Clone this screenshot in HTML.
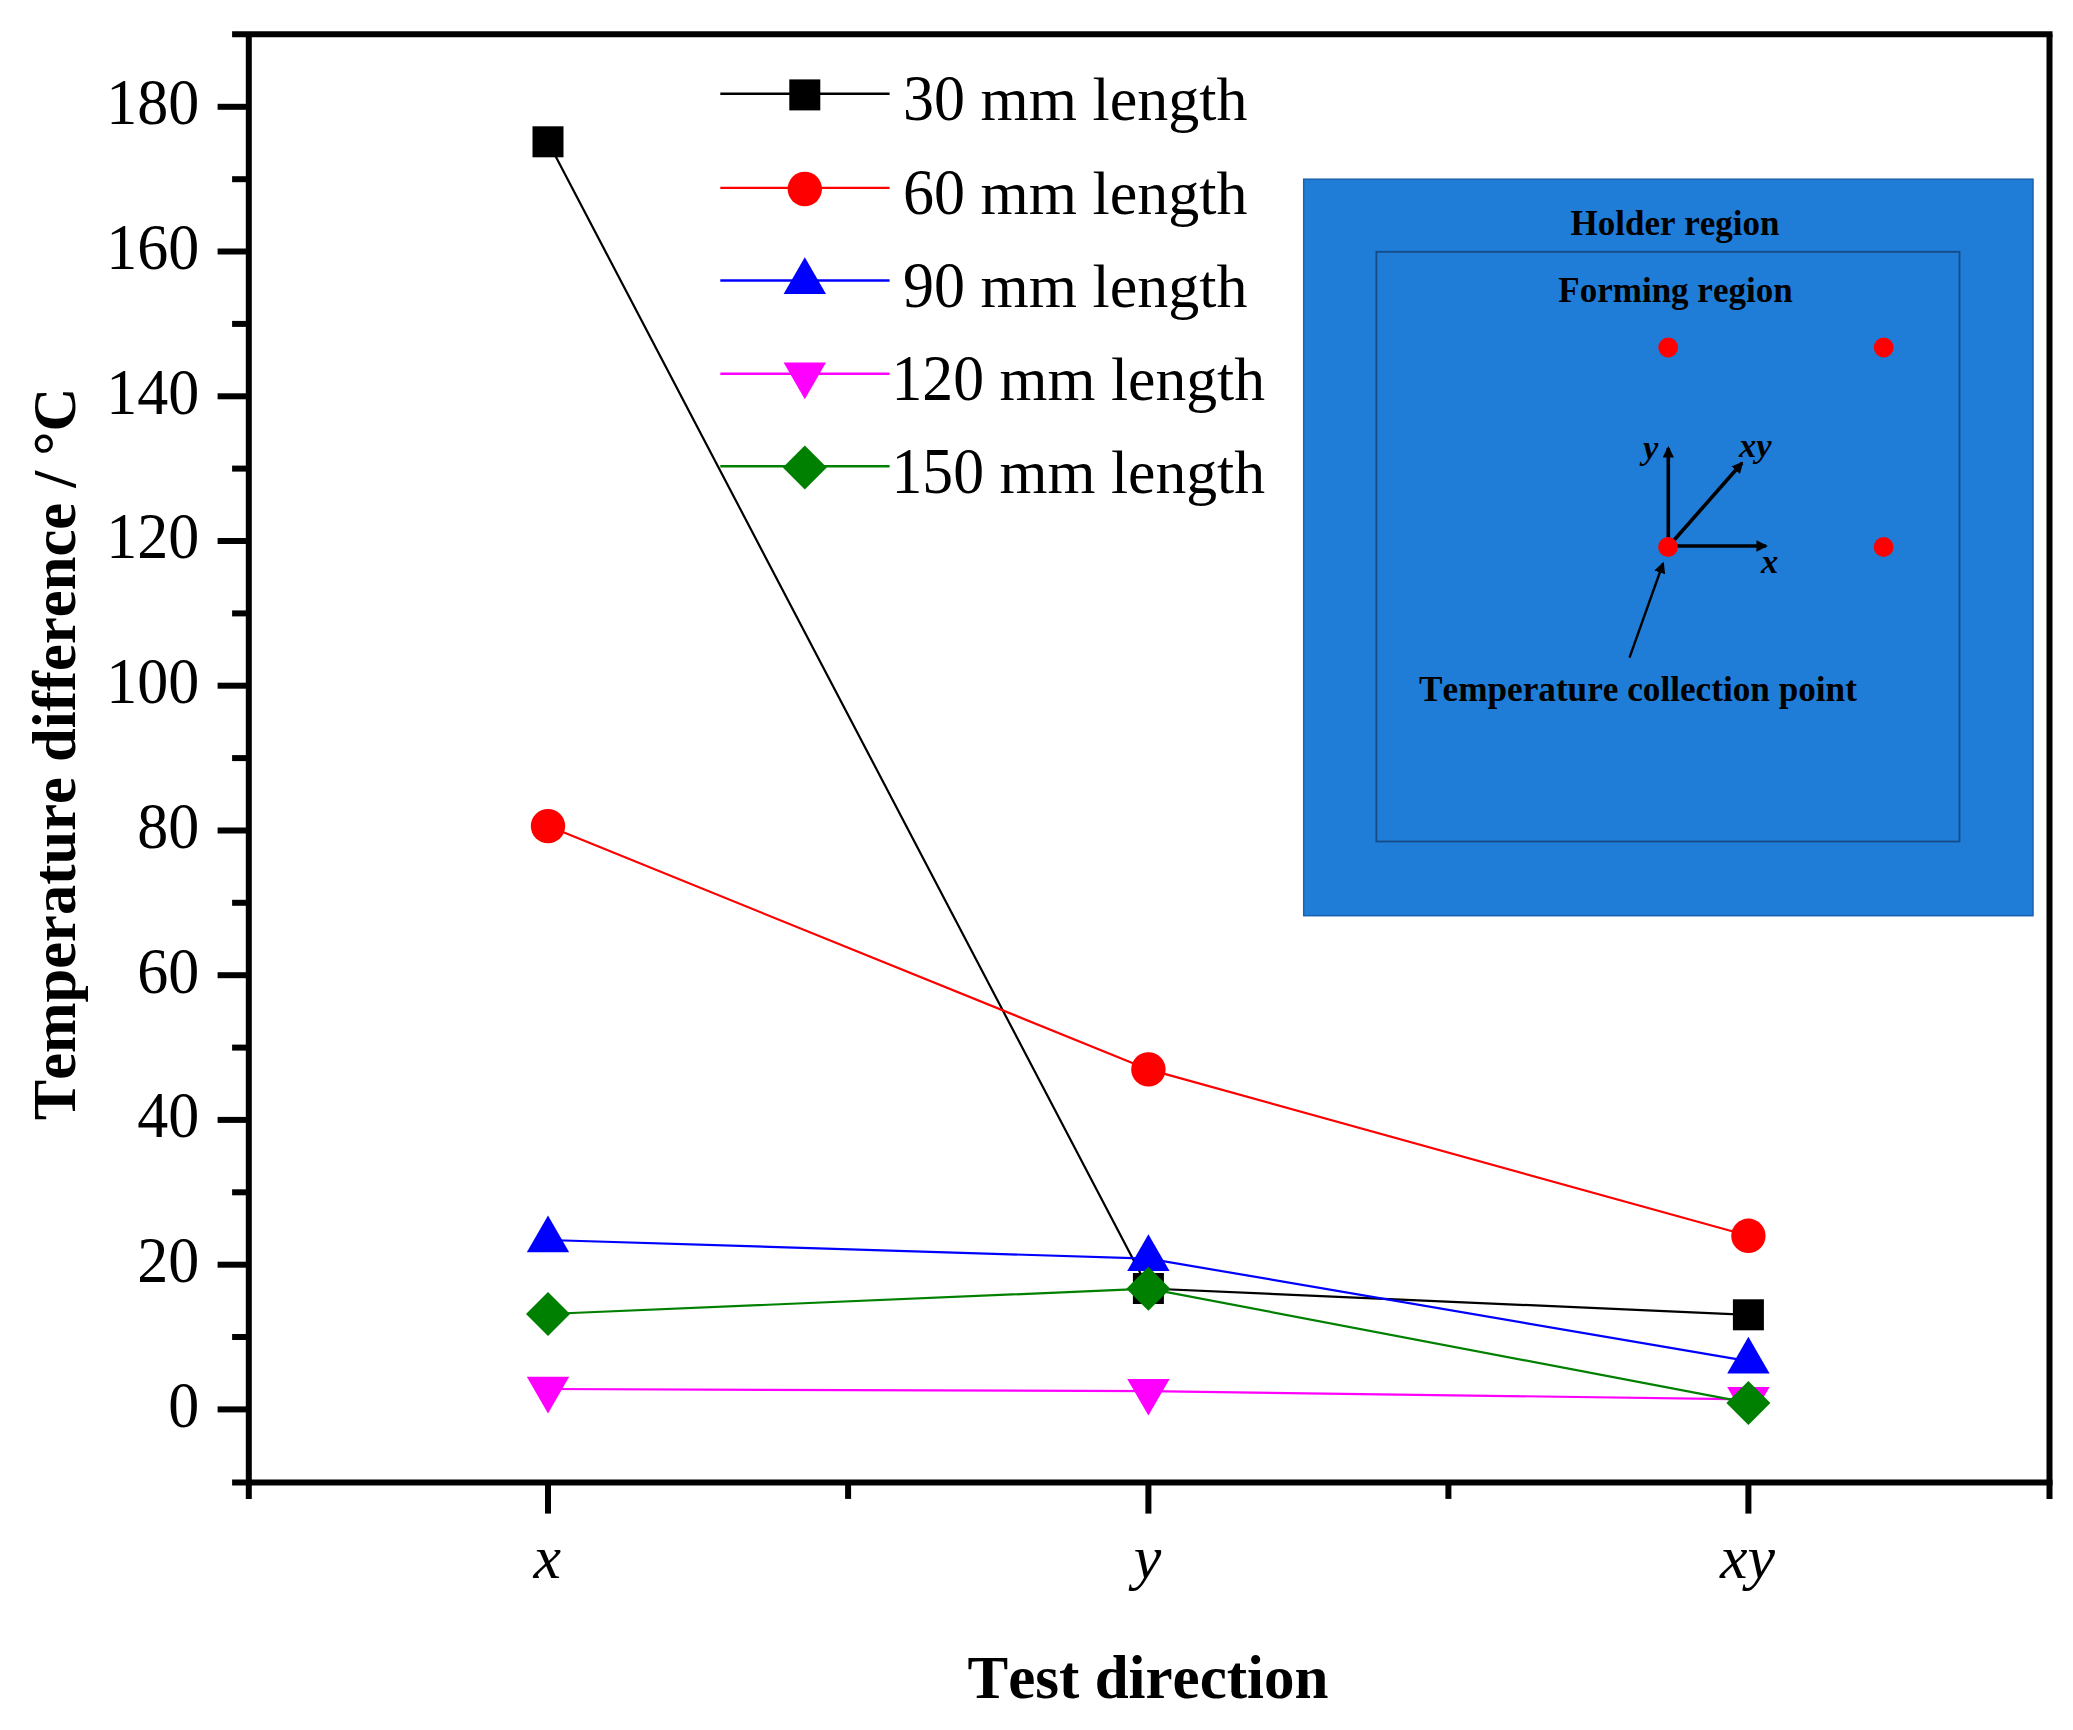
<!DOCTYPE html>
<html lang="en"><head><meta charset="utf-8"><title>Temperature difference vs test direction</title>
<style>
html,body{margin:0;padding:0;background:#fff;}
body{width:2073px;height:1730px;overflow:hidden;}
svg{display:block;}
text{font-family:"Liberation Serif","Times New Roman",serif;fill:#000;font-kerning:none;}
.b{font-weight:bold;}
.i{font-style:italic;}
</style></head><body>
<svg width="2073" height="1730" viewBox="0 0 2073 1730">
<rect width="2073" height="1730" fill="#ffffff"/>
<g stroke="#000" stroke-width="6" fill="none" stroke-linecap="butt">
<line x1="232.10000000000002" y1="34.2" x2="2052.5" y2="34.2"/>
<line x1="232.10000000000002" y1="1482.6" x2="2052.5" y2="1482.6"/>
<line x1="248.8" y1="34.2" x2="248.8" y2="1498.8999999999999"/>
<line x1="2049.5" y1="34.2" x2="2049.5" y2="1498.8999999999999"/>
<line x1="217.60000000000002" y1="1409.4" x2="248.8" y2="1409.4"/>
<line x1="217.60000000000002" y1="1264.7" x2="248.8" y2="1264.7"/>
<line x1="217.60000000000002" y1="1119.9" x2="248.8" y2="1119.9"/>
<line x1="217.60000000000002" y1="975.2" x2="248.8" y2="975.2"/>
<line x1="217.60000000000002" y1="830.5" x2="248.8" y2="830.5"/>
<line x1="217.60000000000002" y1="685.7" x2="248.8" y2="685.7"/>
<line x1="217.60000000000002" y1="541.0" x2="248.8" y2="541.0"/>
<line x1="217.60000000000002" y1="396.3" x2="248.8" y2="396.3"/>
<line x1="217.60000000000002" y1="251.5" x2="248.8" y2="251.5"/>
<line x1="217.60000000000002" y1="106.8" x2="248.8" y2="106.8"/>
<line x1="232.10000000000002" y1="1337.0" x2="248.8" y2="1337.0"/>
<line x1="232.10000000000002" y1="1192.3" x2="248.8" y2="1192.3"/>
<line x1="232.10000000000002" y1="1047.6" x2="248.8" y2="1047.6"/>
<line x1="232.10000000000002" y1="902.8" x2="248.8" y2="902.8"/>
<line x1="232.10000000000002" y1="758.1" x2="248.8" y2="758.1"/>
<line x1="232.10000000000002" y1="613.4" x2="248.8" y2="613.4"/>
<line x1="232.10000000000002" y1="468.6" x2="248.8" y2="468.6"/>
<line x1="232.10000000000002" y1="323.9" x2="248.8" y2="323.9"/>
<line x1="232.10000000000002" y1="179.2" x2="248.8" y2="179.2"/>
<line x1="548.0" y1="1482.6" x2="548.0" y2="1513.6"/>
<line x1="1148.4" y1="1482.6" x2="1148.4" y2="1513.6"/>
<line x1="1748.4" y1="1482.6" x2="1748.4" y2="1513.6"/>
<line x1="848.1" y1="1482.6" x2="848.1" y2="1498.8999999999999"/>
<line x1="1448.4" y1="1482.6" x2="1448.4" y2="1498.8999999999999"/>
</g>
<g font-size="62" text-anchor="end">
<text transform="translate(199.2,1426.7) scale(1,1.06)">0</text>
<text transform="translate(199.2,1282.0) scale(1,1.06)">20</text>
<text transform="translate(199.2,1137.2) scale(1,1.06)">40</text>
<text transform="translate(199.2,992.5) scale(1,1.06)">60</text>
<text transform="translate(199.2,847.8) scale(1,1.06)">80</text>
<text transform="translate(199.2,703.0) scale(1,1.06)">100</text>
<text transform="translate(199.2,558.3) scale(1,1.06)">120</text>
<text transform="translate(199.2,413.6) scale(1,1.06)">140</text>
<text transform="translate(199.2,268.8) scale(1,1.06)">160</text>
<text transform="translate(199.2,124.1) scale(1,1.06)">180</text>
</g>
<g font-size="62" text-anchor="middle" class="i">
<text x="547.2" y="1578">x</text>
<text x="1147.6000000000001" y="1578">y</text>
<text x="1747.6000000000001" y="1578">xy</text>
</g>
<text class="b" font-size="61" text-anchor="middle" x="1148" y="1698.3">Test direction</text>
<text class="b" font-size="60.6" text-anchor="middle" transform="translate(75.2,754) rotate(-90)">Temperature difference / °C</text>
<polyline points="548.0,141.8 1148.4,1288.5 1748.4,1314.8" fill="none" stroke="#000000" stroke-width="2.2"/>
<rect x="532.5" y="126.3" width="31" height="31" fill="#000000"/>
<rect x="1132.9" y="1273.0" width="31" height="31" fill="#000000"/>
<rect x="1732.9" y="1299.3" width="31" height="31" fill="#000000"/>
<polyline points="548.0,826.1 1148.4,1069.4 1748.4,1235.8" fill="none" stroke="#ff0000" stroke-width="2.2"/>
<circle cx="548.0" cy="826.1" r="17.2" fill="#ff0000"/>
<circle cx="1148.4" cy="1069.4" r="17.2" fill="#ff0000"/>
<circle cx="1748.4" cy="1235.8" r="17.2" fill="#ff0000"/>
<polyline points="548.0,1240.0 1148.4,1258.6 1748.4,1361.1" fill="none" stroke="#0000ff" stroke-width="2.2"/>
<polygon points="548.0,1215.6 569.2,1252.3 526.8,1252.3" fill="#0000ff"/>
<polygon points="1148.4,1234.2 1169.6,1270.9 1127.2,1270.9" fill="#0000ff"/>
<polygon points="1748.4,1336.7 1769.6,1373.4 1727.2,1373.4" fill="#0000ff"/>
<polyline points="548.0,1389.0 1148.4,1391.2 1748.4,1399.3" fill="none" stroke="#ff00ff" stroke-width="2.2"/>
<polygon points="548.0,1413.4 569.2,1376.7 526.8,1376.7" fill="#ff00ff"/>
<polygon points="1148.4,1415.6 1169.6,1378.9 1127.2,1378.9" fill="#ff00ff"/>
<polygon points="1748.4,1423.7 1769.6,1387.0 1727.2,1387.0" fill="#ff00ff"/>
<polyline points="548.0,1314.0 1148.4,1288.7 1748.4,1402.9" fill="none" stroke="#008000" stroke-width="2.2"/>
<polygon points="548.0,1292.0 570.0,1314.0 548.0,1336.0 526.0,1314.0" fill="#008000"/>
<polygon points="1148.4,1266.7 1170.4,1288.7 1148.4,1310.7 1126.4,1288.7" fill="#008000"/>
<polygon points="1748.4,1380.9 1770.4,1402.9 1748.4,1424.9 1726.4,1402.9" fill="#008000"/>
<line x1="720.3" y1="93.8" x2="889.6" y2="93.8" stroke="#000000" stroke-width="2.4"/>
<rect x="789.3" y="79.4" width="31" height="31" fill="#000000"/>
<text font-size="62" transform="translate(903,120.2) scale(1,1.06)">30</text>
<text font-size="62" x="980.5" y="120.2">mm length</text>
<line x1="720.3" y1="187.9" x2="889.6" y2="187.9" stroke="#ff0000" stroke-width="2.4"/>
<circle cx="804.8" cy="189.0" r="17.2" fill="#ff0000"/>
<text font-size="62" transform="translate(903,214.3) scale(1,1.06)">60</text>
<text font-size="62" x="980.5" y="214.3">mm length</text>
<line x1="720.3" y1="280.5" x2="889.6" y2="280.5" stroke="#0000ff" stroke-width="2.4"/>
<polygon points="804.8,257.2 826.0,293.9 783.6,293.9" fill="#0000ff"/>
<text font-size="62" transform="translate(903,306.9) scale(1,1.06)">90</text>
<text font-size="62" x="980.5" y="306.9">mm length</text>
<line x1="720.3" y1="373.7" x2="889.6" y2="373.7" stroke="#ff00ff" stroke-width="2.4"/>
<polygon points="804.8,399.2 826.0,362.5 783.6,362.5" fill="#ff00ff"/>
<text font-size="61.7" transform="translate(891.5,400.1) scale(1,1.06)">120</text>
<text font-size="61.7" x="999.5" y="400.1">mm length</text>
<line x1="720.3" y1="466.3" x2="889.6" y2="466.3" stroke="#008000" stroke-width="2.4"/>
<polygon points="804.8,445.4 826.8,467.4 804.8,489.4 782.8,467.4" fill="#008000"/>
<text font-size="61.7" transform="translate(891.5,492.7) scale(1,1.06)">150</text>
<text font-size="61.7" x="999.5" y="492.7">mm length</text>
<rect x="1303.7" y="179.2" width="729.3" height="736.5" fill="#1f7dd8" stroke="#1a62b0" stroke-width="1.5"/>
<rect x="1376.4" y="251.8" width="583.1" height="589.7" fill="none" stroke="#164b86" stroke-width="1.8"/>
<text class="b" font-size="35" text-anchor="middle" x="1675" y="234.6">Holder region</text>
<text class="b" font-size="35" text-anchor="middle" x="1675.5" y="301.5">Forming region</text>
<text class="b" font-size="35.2" text-anchor="middle" x="1638" y="701">Temperature collection point</text>
<defs><marker id="ah" viewBox="0 0 12 12" refX="10" refY="6" markerWidth="11.5" markerHeight="11.5" markerUnits="userSpaceOnUse" orient="auto"><path d="M0,0 L12,6 L0,12 Z" fill="#000"/></marker></defs>
<g stroke="#000" stroke-width="3.6" fill="none">
<line x1="1668.3" y1="547" x2="1668.3" y2="448" marker-end="url(#ah)"/>
<line x1="1668" y1="546" x2="1766" y2="546" marker-end="url(#ah)"/>
<line x1="1668" y1="547" x2="1742" y2="463" marker-end="url(#ah)"/>
</g>
<line x1="1629.5" y1="657.6" x2="1663" y2="563.5" stroke="#000" stroke-width="2.4" marker-end="url(#ah)"/>
<circle cx="1668.2" cy="347.5" r="9.9" fill="#ff0000"/>
<circle cx="1883.7" cy="347.5" r="9.9" fill="#ff0000"/>
<circle cx="1668.0" cy="547.0" r="9.9" fill="#ff0000"/>
<circle cx="1883.6" cy="547.0" r="9.9" fill="#ff0000"/>
<g class="b i" font-size="34.5">
<text x="1643" y="458.5">y</text>
<text x="1739" y="456.5">xy</text>
<text x="1761" y="573">x</text>
</g>
</svg>
</body></html>
